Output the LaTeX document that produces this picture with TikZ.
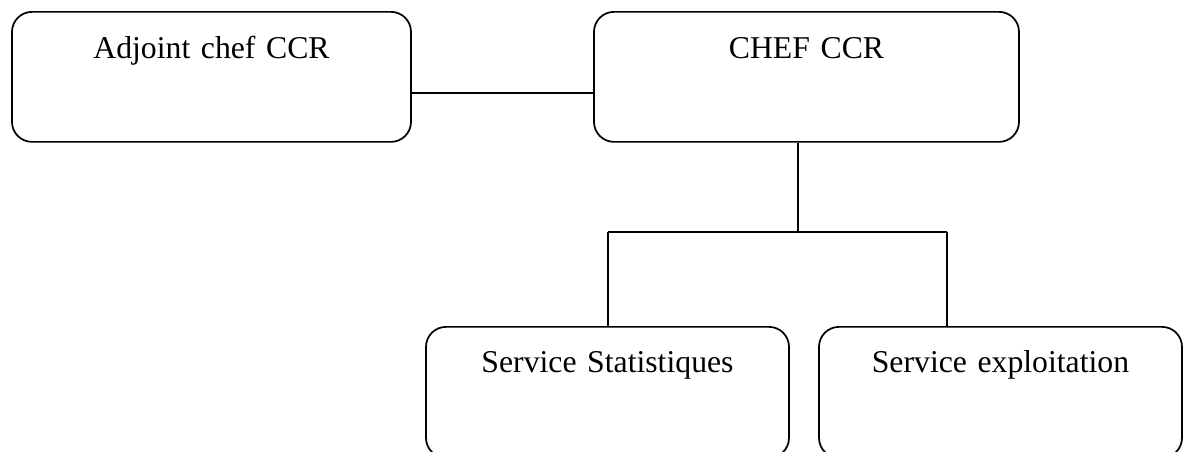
\documentclass[tikz,border=0pt]{standalone}
\usepackage{fontspec}
\setmainfont{Liberation Serif}
\begin{document}
\begin{tikzpicture}[x=0.75pt,y=-0.75pt,
  unit/.style={draw,line width=1.3pt,rounded corners=15pt,inner sep=0pt,
    anchor=north,align=center,font=\fontsize{23.8}{28}\selectfont},
  topunit/.style={unit,text height=35.25pt,text depth=62.25pt},
  lowunit/.style={unit,text height=34.5pt,text depth=63.75pt,text width=272.25pt},
  link/.style={line width=1.3pt}]
\useasboundingbox (0,0) rectangle (1190,451);
\begin{scope}
\clip (0,0) rectangle (1190,451);
% upper level
\node[topunit,text width=299.25pt] (adj) at (211.5,11) {Adjoint chef CCR};
\node[topunit,text width=318.75pt] (chef) at (806.5,11) {CHEF CCR};
% lower level
\node[lowunit] (stat) at (607.5,326) {Service Statistiques};
\node[lowunit] (expl) at (1000.5,326) {Service exploitation};
% bus junctions
\coordinate (bus) at (798,232);
\coordinate (busL) at (608,232);
\coordinate (busR) at (947,232);
% connectors
\draw[link] ([yshift=-12pt]adj.east) -- ([yshift=-12pt]chef.west);
\draw[link] (bus |- chef.south) -- (bus);
\draw[link] (busL) -- (busR);
\draw[link] (busL) -- (busL |- stat.north);
\draw[link] (busR) -- (busR |- expl.north);
\end{scope}
\end{tikzpicture}
\end{document}
